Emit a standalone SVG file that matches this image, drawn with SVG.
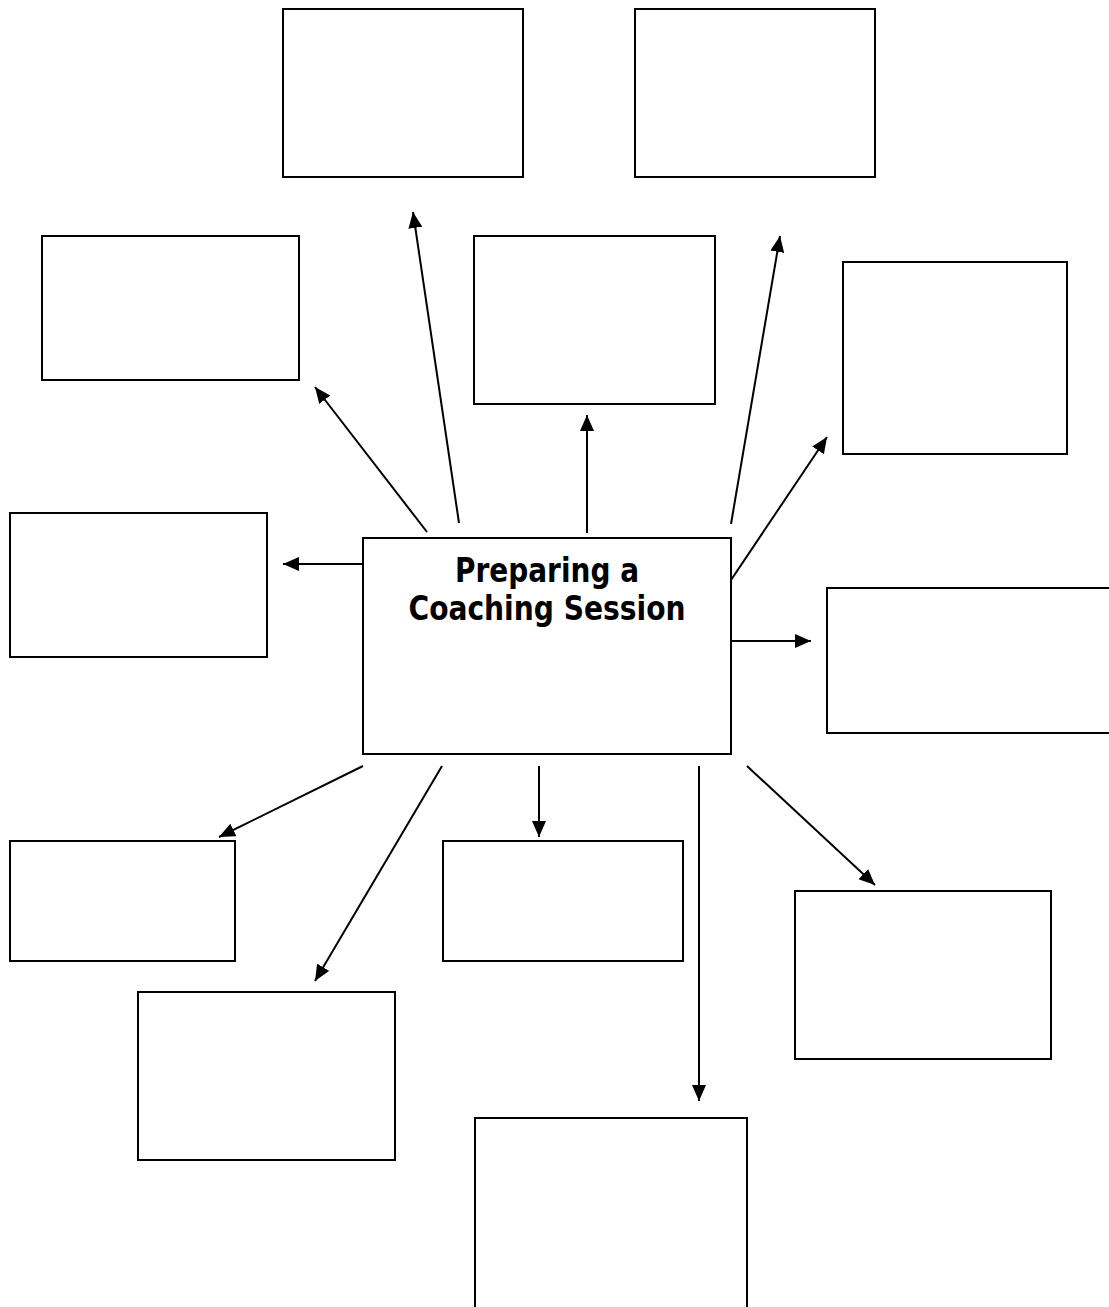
<svg xmlns="http://www.w3.org/2000/svg" width="1109" height="1307" viewBox="0 0 1109 1307">
<style>
.box{fill:#fff;stroke:#000;stroke-width:2}
.con{stroke:#000;stroke-width:2;fill:none;marker-end:url(#ah)}
.title{font-family:"DejaVu Sans Condensed","DejaVu Sans",sans-serif;font-weight:bold;font-size:33px;fill:#000;text-anchor:middle}
</style>
<defs>
<marker id="ah" markerUnits="userSpaceOnUse" markerWidth="20" markerHeight="16" refX="16" refY="7" orient="auto">
<path d="M0,0 L16,7 L0,14 Z" fill="#000"/>
</marker>
</defs>
<rect width="1109" height="1307" fill="#fff"/>
<g id="n1"><rect class="box" x="283" y="9" width="240" height="168"/></g>
<g id="n2"><rect class="box" x="635" y="9" width="240" height="168"/></g>
<g id="n3"><rect class="box" x="42" y="236" width="257" height="144"/></g>
<g id="n4"><rect class="box" x="474" y="236" width="241" height="168"/></g>
<g id="n5"><rect class="box" x="843" y="262" width="224" height="192"/></g>
<g id="n6"><rect class="box" x="10" y="513" width="257" height="144"/></g>
<g id="center"><rect class="box" x="363" y="538" width="368" height="216"/>
<text class="title" x="547" y="582" textLength="184" lengthAdjust="spacingAndGlyphs">Preparing a</text>
<text class="title" x="547" y="620" textLength="277" lengthAdjust="spacingAndGlyphs">Coaching Session</text></g>
<g id="n8"><rect class="box" x="827" y="588" width="300" height="145"/></g>
<g id="n9"><rect class="box" x="10" y="841" width="225" height="120"/></g>
<g id="n10"><rect class="box" x="443" y="841" width="240" height="120"/></g>
<g id="n11"><rect class="box" x="795" y="891" width="256" height="168"/></g>
<g id="n12"><rect class="box" x="138" y="992" width="257" height="168"/></g>
<g id="n13"><rect class="box" x="475" y="1118" width="272" height="200"/></g>
<g id="connectors">
<line class="con" x1="427" y1="532" x2="315" y2="387"/>
<line class="con" x1="459" y1="523" x2="413" y2="212"/>
<line class="con" x1="587" y1="533" x2="587" y2="415"/>
<line class="con" x1="731" y1="524" x2="780" y2="236"/>
<line class="con" x1="731" y1="580" x2="827" y2="437"/>
<line class="con" x1="363" y1="564" x2="283" y2="564"/>
<line class="con" x1="731" y1="641" x2="811" y2="641"/>
<line class="con" x1="363" y1="766" x2="219" y2="837"/>
<line class="con" x1="442" y1="766" x2="315" y2="981"/>
<line class="con" x1="539" y1="766" x2="539" y2="837"/>
<line class="con" x1="699" y1="766" x2="699" y2="1101"/>
<line class="con" x1="747" y1="766" x2="875" y2="885"/>
</g>
</svg>
